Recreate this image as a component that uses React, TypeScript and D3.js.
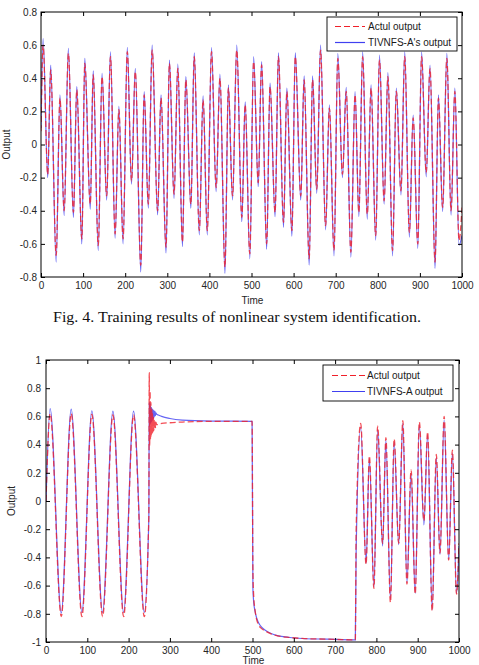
import React, { useEffect, useRef } from 'react';
import * as d3 from 'd3';

// training run: sample times at turning points, plant output and TIVNFS-A output
const trainTime = [
  0, 5, 16, 23, 36, 45, 55, 65, 77, 85, 97, 104, 117, 124, 136, 145, 156, 165, 176, 185,
  195, 205, 215, 224, 237, 245, 255, 264, 277, 285, 297, 305, 316, 325, 336, 344, 356, 364, 376, 385,
  395, 405, 416, 425, 437, 445, 455, 465, 477, 485, 496, 505, 516, 524, 536, 544, 556, 564, 576, 584,
  596, 604, 617, 625, 637, 645, 655, 664, 676, 685, 696, 705, 716, 725, 736, 746, 755, 764, 775, 784,
  795, 804, 815, 824, 835, 844, 855, 864, 875, 884, 895, 904, 915, 924, 936, 944, 954, 964, 974, 983,
  993, 1000
];
const trainActual = [
  0.08, 0.6, -0.18, 0.45, -0.67, 0.28, -0.4, 0.55, -0.41, 0.33, -0.57, 0.49, -0.36, 0.42, -0.61, 0.41, -0.31, 0.53, -0.54, 0.21,
  -0.57, 0.56, -0.22, 0.44, -0.73, 0.3, -0.36, 0.57, -0.4, 0.28, -0.62, 0.49, -0.3, 0.46, -0.59, 0.39, -0.36, 0.53, -0.52, 0.27,
  -0.52, 0.56, -0.26, 0.4, -0.74, 0.34, -0.31, 0.57, -0.44, 0.24, -0.66, 0.5, -0.23, 0.48, -0.6, 0.35, -0.41, 0.53, -0.47, 0.32,
  -0.52, 0.53, -0.31, 0.39, -0.69, 0.39, -0.27, 0.57, -0.49, 0.22, -0.64, 0.52, -0.18, 0.32, -0.65, 0.3, -0.41, 0.53, -0.42, 0.34,
  -0.55, 0.51, -0.34, 0.41, -0.64, 0.32, -0.28, 0.53, -0.53, 0.16, -0.6, 0.53, -0.17, 0.46, -0.71, 0.28, -0.38, 0.52, -0.4, 0.32,
  -0.58, -0.38
];
const trainModel = [
  0.1, 0.64, -0.2, 0.48, -0.71, 0.3, -0.43, 0.58, -0.44, 0.35, -0.6, 0.52, -0.39, 0.445, -0.64, 0.43, -0.335, 0.56, -0.565, 0.23,
  -0.6, 0.587, -0.24, 0.46, -0.77, 0.32, -0.385, 0.6, -0.425, 0.3, -0.655, 0.51, -0.325, 0.486, -0.617, 0.41, -0.385, 0.554, -0.546, 0.293,
  -0.546, 0.585, -0.285, 0.425, -0.778, 0.36, -0.335, 0.6, -0.466, 0.258, -0.69, 0.53, -0.255, 0.5, -0.633, 0.37, -0.436, 0.554, -0.5, 0.34,
  -0.553, 0.554, -0.335, 0.414, -0.728, 0.414, -0.295, 0.6, -0.516, 0.24, -0.673, 0.55, -0.2, 0.345, -0.68, 0.32, -0.436, 0.56, -0.45, 0.36,
  -0.577, 0.54, -0.36, 0.434, -0.673, 0.34, -0.305, 0.56, -0.56, 0.178, -0.627, 0.56, -0.195, 0.48, -0.748, 0.3, -0.406, 0.55, -0.426, 0.34,
  -0.607, -0.55
];

// test run: sine input, step hold, step down, then mixed input
const testTime = [
  0, 10, 37, 61, 87, 111, 137, 162, 188, 212, 238, 249, 250, 251, 252, 253, 254, 255, 256, 257,
  258, 259, 260, 261, 262, 263, 264, 265, 266, 268, 272, 280, 300, 330, 400, 499, 501, 503, 506, 510,
  515, 522, 530, 545, 560, 590, 620, 680, 749, 751, 762, 775, 783, 794, 803, 815, 823, 834, 843, 854,
  864, 874, 884, 894, 904, 915, 924, 935, 945, 954, 964, 975, 984, 994, 1000
];
const testActual = [
  0, 0.62, -0.82, 0.62, -0.82, 0.615, -0.82, 0.61, -0.82, 0.61, -0.82, -0.1, 0.91, 0.39, 0.78, 0.44, 0.7, 0.46, 0.65, 0.47,
  0.62, 0.49, 0.6, 0.5, 0.58, 0.51, 0.57, 0.52, 0.56, 0.54, 0.545, 0.55, 0.555, 0.56, 0.565, 0.565, -0.5, -0.68, -0.77, -0.84,
  -0.88, -0.905, -0.92, -0.943, -0.956, -0.968, -0.975, -0.98, -0.985, -0.2, 0.55, -0.45, 0.32, -0.62, 0.53, -0.3, 0.45, -0.72, 0.44, -0.3,
  0.57, -0.59, 0.22, -0.66, 0.56, -0.14, 0.49, -0.78, 0.33, -0.37, 0.6, -0.42, 0.36, -0.66, -0.3
];
const testModel = [
  0, 0.655, -0.795, 0.652, -0.79, 0.64, -0.79, 0.638, -0.79, 0.638, -0.79, -0.12, 0.7, 0.53, 0.69, 0.55, 0.67, 0.56, 0.66, 0.57,
  0.65, 0.58, 0.645, 0.59, 0.64, 0.6, 0.635, 0.605, 0.625, 0.615, 0.61, 0.6, 0.585, 0.574, 0.567, 0.565, -0.62, -0.72, -0.78, -0.83,
  -0.865, -0.895, -0.915, -0.94, -0.955, -0.968, -0.975, -0.98, -0.985, -0.35, 0.523, -0.44, 0.3, -0.61, 0.508, -0.32, 0.43, -0.7, 0.42, -0.31,
  0.55, -0.58, 0.196, -0.655, 0.54, -0.17, 0.47, -0.77, 0.31, -0.38, 0.574, -0.415, 0.34, -0.655, -0.32
];

const timeTicks = [0, 100, 200, 300, 400, 500, 600, 700, 800, 900, 1000];
const trainOutputTicks = [-0.8, -0.6, -0.4, -0.2, 0, 0.2, 0.4, 0.6, 0.8];
const testOutputTicks = [-1, -0.8, -0.6, -0.4, -0.2, 0, 0.2, 0.4, 0.6, 0.8, 1];

const actualLabel = 'Actul output';
const trainModelLabel = "TIVNFS-A's output";
const testModelLabel = 'TIVNFS-A output';
const caption = 'Fig. 4. Training results of nonlinear system identification.';

const RED = '#f0202a';
const BLUE = '#4040f0';
const FONT = '"Liberation Sans", Arial, sans-serif';

interface PanelSpec {
  left: number; right: number; top: number; bottom: number;
  yDomain: [number, number];
  yTicks: number[];
  labelPad: number;
  time: number[]; actual: number[]; model: number[];
  modelLabel: string;
  legend: { x: number; y: number; w: number; h: number; row1: number; row2: number; lx1: number; lx2: number; tx: number };
  timeLabelY: number;
}

const fmt = (d: d3.NumberValue) => String(+(+d).toFixed(1));

function drawPanel(svg: d3.Selection<SVGSVGElement, unknown, null, undefined>, p: PanelSpec) {
  const x = d3.scaleLinear().domain([0, 1000]).range([p.left, p.right]);
  const y = d3.scaleLinear().domain(p.yDomain).range([p.bottom, p.top]);
  const g = svg.append('g');

  const clipId = `clip-${p.top}`;
  g.append('clipPath').attr('id', clipId)
    .append('rect')
    .attr('x', p.left).attr('y', p.top)
    .attr('width', p.right - p.left).attr('height', p.bottom - p.top);

  const line = (vals: number[]) =>
    d3.line<number>()
      .x((_, i) => x(p.time[i]))
      .y(d => y(d))
      .curve(d3.curveMonotoneX)(vals);

  const plot = g.append('g').attr('clip-path', `url(#${clipId})`);
  plot.append('path')
    .attr('d', line(p.model))
    .attr('fill', 'none')
    .attr('stroke', BLUE)
    .attr('stroke-width', 1.2)
    .attr('stroke-opacity', 0.8);
  plot.append('path')
    .attr('d', line(p.actual))
    .attr('fill', 'none')
    .attr('stroke', RED)
    .attr('stroke-width', 1.3)
    .attr('stroke-opacity', 0.8)
    .attr('stroke-dasharray', '6,3');

  // axes with inward ticks on all four sides
  const styleAxis = (a: d3.Selection<SVGGElement, unknown, null, undefined>) => {
    a.select('.domain').remove();
    a.selectAll('line').attr('stroke', '#000');
    a.selectAll('text').attr('font-family', FONT).attr('font-size', 10).attr('fill', '#262626');
  };
  g.append('g').attr('transform', `translate(0,${p.bottom})`)
    .call(d3.axisBottom(x).tickValues(timeTicks).tickSize(-4).tickPadding(5).tickFormat(fmt))
    .call(styleAxis);
  g.append('g').attr('transform', `translate(0,${p.top})`)
    .call(d3.axisTop(x).tickValues(timeTicks).tickSize(-4).tickFormat(() => ''))
    .call(styleAxis);
  g.append('g').attr('transform', `translate(${p.left},0)`)
    .call(d3.axisLeft(y).tickValues(p.yTicks).tickSize(-4).tickPadding(p.labelPad).tickFormat(fmt))
    .call(styleAxis);
  g.append('g').attr('transform', `translate(${p.right},0)`)
    .call(d3.axisRight(y).tickValues(p.yTicks).tickSize(-4).tickFormat(() => ''))
    .call(styleAxis);

  g.append('rect')
    .attr('x', p.left).attr('y', p.top)
    .attr('width', p.right - p.left).attr('height', p.bottom - p.top)
    .attr('fill', 'none').attr('stroke', '#000').attr('stroke-width', 1);

  g.append('text')
    .attr('transform', `translate(${p.left - 31},${(p.top + p.bottom) / 2}) rotate(-90)`)
    .attr('text-anchor', 'middle')
    .attr('font-family', FONT).attr('font-size', 10).attr('fill', '#262626')
    .text('Output');

  g.append('text')
    .attr('x', (p.left + p.right) / 2 + 1).attr('y', p.timeLabelY)
    .attr('text-anchor', 'middle')
    .attr('font-family', FONT).attr('font-size', 10).attr('fill', '#262626')
    .text('Time');

  // legend
  const L = p.legend;
  const lg = g.append('g');
  lg.append('rect')
    .attr('x', L.x).attr('y', L.y).attr('width', L.w).attr('height', L.h)
    .attr('fill', '#fff').attr('stroke', '#000').attr('stroke-width', 0.9);
  const items = [
    { label: actualLabel, color: RED, dash: '6,3', row: L.row1 },
    { label: p.modelLabel, color: BLUE, dash: 'none', row: L.row2 }
  ];
  items.forEach(it => {
    lg.append('line')
      .attr('x1', L.lx1).attr('x2', L.lx2).attr('y1', it.row).attr('y2', it.row)
      .attr('stroke', it.color).attr('stroke-width', 1.2)
      .attr('stroke-dasharray', it.dash);
    lg.append('text')
      .attr('x', L.tx).attr('y', it.row).attr('dy', '0.35em')
      .attr('font-family', FONT).attr('font-size', 10).attr('fill', '#1a1a1a')
      .text(it.label);
  });
}

export default function App() {
  const svgRef = useRef<SVGSVGElement>(null);

  useEffect(() => {
    if (!svgRef.current) return;
    const svg = d3.select(svgRef.current);
    svg.selectAll('*').remove();

    drawPanel(svg, {
      left: 41, right: 462, top: 12, bottom: 277,
      yDomain: [-0.8, 0.8], yTicks: trainOutputTicks, labelPad: 4,
      time: trainTime, actual: trainActual, model: trainModel,
      modelLabel: trainModelLabel,
      legend: { x: 327, y: 17, w: 130, h: 34, row1: 26.5, row2: 42.5, lx1: 335, lx2: 365, tx: 368 },
      timeLabelY: 304
    });

    svg.append('text')
      .attr('x', 237).attr('y', 322)
      .attr('text-anchor', 'middle')
      .attr('font-family', '"Liberation Serif", "Times New Roman", serif')
      .attr('font-size', 15.5)
      .attr('textLength', 368)
      .attr('lengthAdjust', 'spacingAndGlyphs')
      .attr('fill', '#111')
      .text(caption);

    drawPanel(svg, {
      left: 46, right: 459, top: 360, bottom: 642,
      yDomain: [-1, 1], yTicks: testOutputTicks, labelPad: 5,
      time: testTime, actual: testActual, model: testModel,
      modelLabel: testModelLabel,
      legend: { x: 323, y: 365, w: 130, h: 36, row1: 375.5, row2: 391.5, lx1: 332, lx2: 365, tx: 367 },
      timeLabelY: 664
    });
  }, []);

  return (
    <svg
      ref={svgRef}
      width={479}
      height={665}
      style={{ position: 'absolute', left: 0, top: 0, background: '#fff' }}
    />
  );
}
